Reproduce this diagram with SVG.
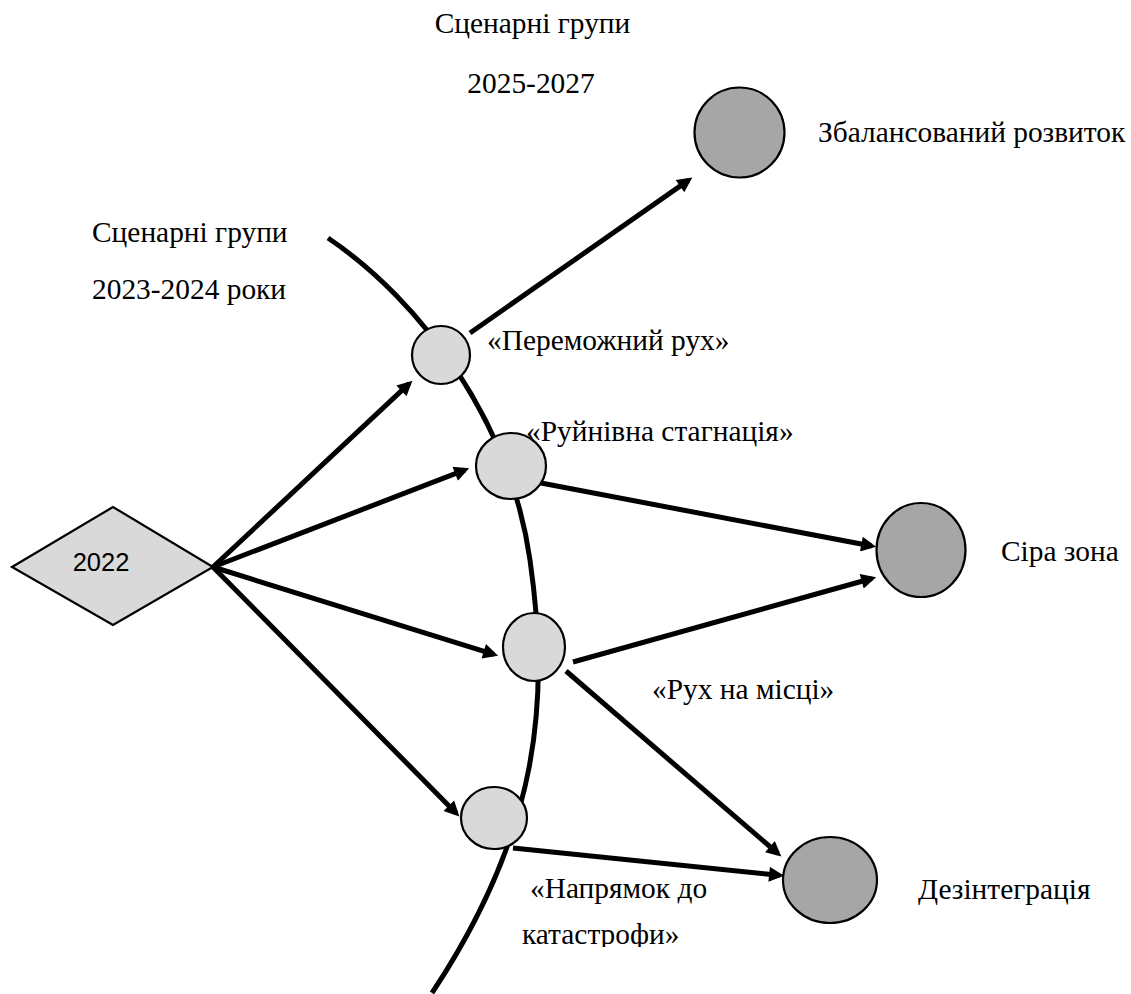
<svg xmlns="http://www.w3.org/2000/svg" width="1131" height="994" viewBox="0 0 1131 994">
<style>
.t{font-family:"Liberation Serif","Times New Roman",serif;font-size:29.4px;fill:#000}
.small{fill:#d9d9d9;stroke:#000;stroke-width:2.2}
.big{fill:#a6a6a6;stroke:#000;stroke-width:2.2}
.arr{fill:none;stroke:#000;stroke-width:5;marker-end:url(#ah)}
</style>
<defs>
<marker id="ah" viewBox="0 0 10 10" refX="7" refY="5" markerWidth="3.6" markerHeight="3" markerUnits="strokeWidth" orient="auto">
<path d="M0,0 L10,5 L0,10 z" fill="#000"/>
</marker>
<clipPath id="clipCat"><rect x="0" y="0" width="1131" height="947"/></clipPath>
</defs>
<rect width="1131" height="994" fill="#fff"/>
<g id="timeline">
<path d="M328,238 C420,300 510,420 530,560 C550,700 540,830 432,993" fill="none" stroke="#000" stroke-width="5"/>
</g>
<g id="n2022">
<polygon points="12,567 113,507 213,567 113,625" fill="#d9d9d9" stroke="#000" stroke-width="2.2"/>
<text x="101" y="571" font-family="Liberation Sans, Arial, sans-serif" font-size="25.5" text-anchor="middle">2022</text>
</g>
<g id="n-peremozhnyi">
<circle class="small" cx="441" cy="355" r="29"/>
<text class="t" x="487" y="350">«Переможний рух»</text>
</g>
<g id="n-ruinivna">
<ellipse class="small" cx="511" cy="466" rx="35" ry="33"/>
<text class="t" x="526" y="441">«Руйнівна стагнація»</text>
</g>
<g id="n-rukh">
<ellipse class="small" cx="534" cy="647" rx="31" ry="34"/>
<text class="t" x="652" y="699">«Рух на місці»</text>
</g>
<g id="n-napriamok">
<ellipse class="small" cx="494" cy="818" rx="33" ry="31"/>
<text class="t" x="530" y="898">«Напрямок до</text>
<text class="t" x="522" y="944" clip-path="url(#clipCat)">катастрофи»</text>
</g>
<g id="n-zbalans">
<circle class="big" cx="739.5" cy="132.5" r="45"/>
<text class="t" x="818" y="142">Збалансований розвиток</text>
</g>
<g id="n-sira">
<ellipse class="big" cx="921" cy="550" rx="44.5" ry="47"/>
<text class="t" x="1001" y="561">Сіра зона</text>
</g>
<g id="n-dezint">
<ellipse class="big" cx="830" cy="880" rx="47" ry="43"/>
<text class="t" x="918" y="899">Дезінтеграція</text>
</g>
<g id="headers">
<text class="t" x="532.5" y="33" text-anchor="middle">Сценарні групи</text>
<text class="t" x="531" y="93" text-anchor="middle">2025-2027</text>
<text class="t" x="92" y="242">Сценарні групи</text>
<text class="t" x="92" y="299">2023-2024 роки</text>
</g>
<g id="connectors">
<path class="arr" d="M213,567 L409.1,383.7"/>
<path class="arr" d="M213,567 L465,469.9"/>
<path class="arr" d="M213,567 L493.8,654.4"/>
<path class="arr" d="M213,567 L456.2,813.2"/>
<path class="arr" d="M470,333 L688.6,180.1"/>
<path class="arr" d="M541,483 L871.7,546"/>
<path class="arr" d="M573,662 L871.8,578.5"/>
<path class="arr" d="M566,671 L777.9,853.5"/>
<path class="arr" d="M513,848 L779.6,875.4"/>
</g>
</svg>
